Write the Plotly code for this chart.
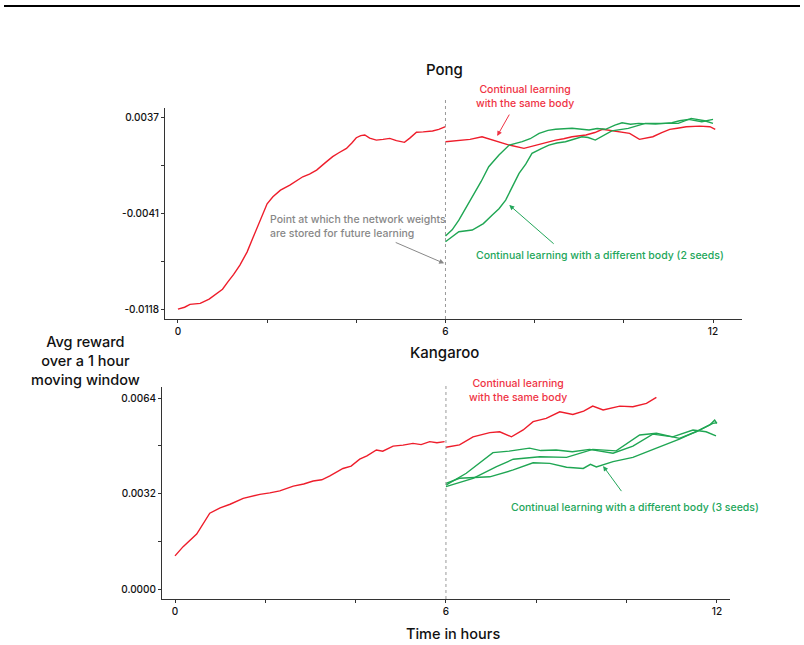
import plotly.graph_objects as go

# ---------------- data ----------------
pong_red_pre_x = [0, 0.15, 0.27, 0.5, 0.7, 0.83, 1.0, 1.12, 1.25, 1.39, 1.55, 1.68, 1.8, 1.91, 2.0, 2.13, 2.3, 2.51, 2.65, 2.8, 2.95, 3.11, 3.3, 3.47, 3.6, 3.78, 3.9, 4.0, 4.1, 4.19, 4.3, 4.45, 4.6, 4.75, 4.9, 5.08, 5.2, 5.35, 5.5, 5.71, 5.85, 6.0]
pong_red_pre_y = [-0.0118, -0.01165, -0.01142, -0.01134, -0.0110, -0.01067, -0.0102, -0.0096, -0.0090, -0.00825, -0.0072, -0.00607, -0.0050, -0.00394, -0.0033, -0.00273, -0.0022, -0.00179, -0.0015, -0.00112, -0.0009, -0.00058, 0.0000, 0.00050, 0.0008, 0.00117, 0.0016, 0.00203, 0.0022, 0.00225, 0.0020, 0.00184, 0.0019, 0.00198, 0.0018, 0.00166, 0.0020, 0.00247, 0.0025, 0.00257, 0.0027, 0.00292]
pong_red_post_x = [6.0, 6.3, 6.55, 6.82, 7.0, 7.13, 7.43, 7.76, 7.95, 8.1, 8.3, 8.47, 8.65, 8.84, 9.15, 9.35, 9.52, 9.7, 9.9, 10.13, 10.35, 10.5, 10.65, 10.85, 11.03, 11.2, 11.4, 11.7, 11.93, 12.05]
pong_red_post_y = [0.00171, 0.00184, 0.0019, 0.00211, 0.00190, 0.00176, 0.00144, 0.00117, 0.00135, 0.00144, 0.00165, 0.00184, 0.00195, 0.00211, 0.00225, 0.00245, 0.00271, 0.00262, 0.00251, 0.00238, 0.00190, 0.00198, 0.00211, 0.00245, 0.00271, 0.00280, 0.00292, 0.00297, 0.00292, 0.00271]
pong_green1_x = [6.0, 6.15, 6.3, 6.45, 6.6, 6.8, 6.97, 7.2, 7.43, 7.72, 7.9, 8.1, 8.3, 8.47, 8.84, 9.0, 9.22, 9.4, 9.59, 9.8, 9.96, 10.15, 10.33, 10.71, 11.08, 11.25, 11.45, 11.75, 12.0]
pong_green1_y = [-0.00591, -0.00540, -0.00462, -0.00370, -0.00273, -0.00150, -0.00031, 0.00063, 0.00144, 0.00171, 0.00195, 0.00238, 0.00262, 0.00271, 0.00279, 0.00272, 0.00265, 0.00278, 0.00271, 0.00305, 0.00324, 0.00312, 0.00319, 0.00313, 0.00324, 0.00340, 0.00351, 0.00332, 0.00351]
pong_green2_x = [6.0, 6.3, 6.6, 6.85, 7.05, 7.2, 7.35, 7.5, 7.65, 7.8, 7.94, 8.15, 8.32, 8.5, 8.69, 9.06, 9.2, 9.36, 9.55, 9.73, 10.1, 10.3, 10.48, 10.92, 11.22, 11.51, 11.81, 12.0]
pong_green2_y = [-0.00637, -0.00556, -0.00542, -0.00490, -0.00421, -0.00370, -0.00300, -0.00190, -0.00085, -0.00010, 0.00077, 0.00115, 0.00144, 0.00160, 0.00171, 0.00211, 0.00205, 0.00184, 0.00225, 0.00259, 0.00279, 0.00300, 0.00319, 0.00319, 0.00319, 0.00359, 0.00340, 0.00319]

kang_red_pre_x = [0, 0.18, 0.48, 0.6, 0.77, 1.0, 1.22, 1.51, 1.88, 2.1, 2.32, 2.62, 2.85, 3.06, 3.25, 3.43, 3.72, 3.9, 4.09, 4.25, 4.46, 4.6, 4.83, 5.05, 5.27, 5.45, 5.64, 5.8, 5.97]
kang_red_pre_y = [0.00111, 0.00142, 0.00184, 0.00215, 0.00254, 0.00272, 0.00284, 0.00304, 0.00317, 0.00322, 0.00329, 0.00345, 0.00352, 0.00362, 0.00366, 0.00379, 0.00404, 0.00412, 0.00435, 0.00446, 0.00466, 0.00462, 0.00479, 0.00482, 0.00488, 0.00484, 0.00494, 0.00490, 0.00494]
kang_red_post_x = [6.0, 6.3, 6.6, 6.97, 7.19, 7.45, 7.71, 7.93, 8.22, 8.52, 8.81, 9.05, 9.25, 9.48, 9.85, 10.14, 10.44, 10.66]
kang_red_post_y = [0.00475, 0.00483, 0.00510, 0.00524, 0.00527, 0.00510, 0.00533, 0.00561, 0.00572, 0.00594, 0.00585, 0.00596, 0.00613, 0.00600, 0.00613, 0.00611, 0.00622, 0.00642]
kang_green1_x = [6.0, 6.45, 7.04, 7.4, 7.85, 8.1, 8.44, 8.8, 9.18, 9.7, 10.14, 10.58, 11.02, 11.47, 11.76, 11.98]
kang_green1_y = [0.00348, 0.00388, 0.00457, 0.00462, 0.00472, 0.00464, 0.00466, 0.00460, 0.00468, 0.00455, 0.00479, 0.00519, 0.00510, 0.00533, 0.00527, 0.00513]
kang_green2_x = [6.0, 6.6, 7.12, 7.49, 8.08, 8.67, 9.25, 9.77, 10.29, 10.66, 11.17, 11.54, 11.84, 11.95, 12.0]
kang_green2_y = [0.00343, 0.00371, 0.00410, 0.00435, 0.00443, 0.00441, 0.00468, 0.00463, 0.00516, 0.00522, 0.00505, 0.00527, 0.00550, 0.00566, 0.00555]
kang_green3_x = [6.0, 6.3, 6.97, 7.49, 7.93, 8.3, 8.67, 9.04, 9.2, 9.33, 9.7, 10.14, 10.66, 11.17, 11.62, 11.91, 12.0]
kang_green3_y = [0.00354, 0.00371, 0.00376, 0.00399, 0.00423, 0.00421, 0.00408, 0.00404, 0.00418, 0.00409, 0.00427, 0.00441, 0.00472, 0.00502, 0.00533, 0.00555, 0.00557]

x_tickvals = [0, 2, 4, 6, 8, 10, 12]
x_ticktext = ["0", "", "", "6", "", "", "12"]
pong_tickvals = [-0.0118, -0.00795, -0.0041, -0.0002, 0.0037]
pong_ticktext = ["-0.0118", "", "-0.0041", "", "0.0037"]
kang_tickvals = [0.0, 0.0016, 0.0032, 0.0048, 0.0064]
kang_ticktext = ["0.0000", "", "0.0032", "", "0.0064"]

RED = "#ee1d2b"
GREEN = "#1fa653"
FONT = "Inter"

fig = go.Figure()

def line(x, y, color, xa, ya):
    fig.add_trace(go.Scatter(x=x, y=y, mode="lines", line=dict(color=color, width=1.4),
                             xaxis=xa, yaxis=ya, showlegend=False, hoverinfo="skip"))

line(pong_red_pre_x, pong_red_pre_y, RED, "x", "y")
line(pong_red_post_x, pong_red_post_y, RED, "x", "y")
line(pong_green1_x, pong_green1_y, GREEN, "x", "y")
line(pong_green2_x, pong_green2_y, GREEN, "x", "y")
line(kang_red_pre_x, kang_red_pre_y, RED, "x2", "y2")
line(kang_red_post_x, kang_red_post_y, RED, "x2", "y2")
line(kang_green1_x, kang_green1_y, GREEN, "x2", "y2")
line(kang_green2_x, kang_green2_y, GREEN, "x2", "y2")
line(kang_green3_x, kang_green3_y, GREEN, "x2", "y2")

W, H = 804, 645
def px(x):
    return x / W
def py(y):
    return 1 - y / H

axis_common = dict(showgrid=False, zeroline=False, showline=True, linecolor="#333333", linewidth=1,
                   ticks="outside", ticklen=3, tickcolor="#333333", tickwidth=1,
                   tickfont=dict(family=FONT, size=10, color="#111111", weight=500))

fig.update_layout(
    width=W, height=H, margin=dict(l=0, r=0, t=0, b=0),
    paper_bgcolor="white", plot_bgcolor="white",
    font=dict(family=FONT),
    xaxis=dict(domain=[px(165), px(742)], range=[-0.29, 12.65], anchor="y",
               tickmode="array", tickvals=x_tickvals, ticktext=x_ticktext, **axis_common),
    yaxis=dict(domain=[py(319), py(108)], range=[-0.0126, 0.00443], anchor="x",
               tickmode="array", tickvals=pong_tickvals, ticktext=pong_ticktext, **axis_common),
    xaxis2=dict(domain=[px(162), px(730)], range=[-0.288, 12.29], anchor="y2",
                tickmode="array", tickvals=x_tickvals, ticktext=x_ticktext, **axis_common),
    yaxis2=dict(domain=[py(599), py(387)], range=[-0.000335, 0.00677], anchor="x2",
                tickmode="array", tickvals=kang_tickvals, ticktext=kang_ticktext, **axis_common),
)

shapes = [
    dict(type="line", xref="paper", yref="paper", x0=px(4), x1=px(800), y0=py(6), y1=py(6),
         line=dict(color="black", width=2)),
    dict(type="line", xref="x", yref="paper", x0=6, x1=6, y0=py(319), y1=py(100),
         line=dict(color="#999999", width=1, dash="3px,3px")),
    dict(type="line", xref="x2", yref="paper", x0=6, x1=6, y0=py(599), y1=py(383),
         line=dict(color="#999999", width=1, dash="3px,3px")),
]
fig.update_layout(shapes=shapes)

ann = []
def text(x, y, s, size, color, xanchor="center", align="center"):
    ann.append(dict(x=px(x), y=py(y), xref="paper", yref="paper", text=s, showarrow=False,
                    xanchor=xanchor, yanchor="middle", align=align,
                    font=dict(family=FONT, size=size, color=color, weight=500)))

text(445, 70, "Pong", 15, "#111111")
text(445, 352, "Kangaroo", 15, "#111111")
text(85, 361, "Avg reward<br>over a 1 hour<br>moving window", 14.5, "#111111")
text(453, 633, "Time in hours", 14.5, "#111111")
text(525, 96, "Continual learning<br>with the same body", 10.5, "#ef3344")
text(600, 255, "Continual learning with a different body (2 seeds)", 10.5, "#22a65a")
text(268, 226, "Point at which the network weights<br>are stored for future learning", 10.5, "#888888",
     xanchor="left", align="left")
text(518, 390, "Continual learning<br>with the same body", 10.5, "#ef3344")
text(635, 507, "Continual learning with a different body (3 seeds)", 10.5, "#22a65a")

def arrow(xh, yh, xt, yt, color, xa, ya):
    ann.append(dict(x=xh, y=yh, ax=xt, ay=yt, xref=xa, yref=ya, axref=xa, ayref=ya,
                    text="", showarrow=True, arrowhead=2, arrowsize=1, arrowwidth=1,
                    arrowcolor=color))

arrow(7.16, 0.00217, 7.45, 0.00402, "#ef3344", "x", "y")
arrow(7.43, -0.00340, 8.46, -0.00663, "#22a65a", "x", "y")
arrow(5.97, -0.00811, 4.85, -0.00637, "#888888", "x", "y")
arrow(9.48, 0.00412, 9.91, 0.00323, "#22a65a", "x2", "y2")

fig.update_layout(annotations=ann)

fig.write_html("out.html")
